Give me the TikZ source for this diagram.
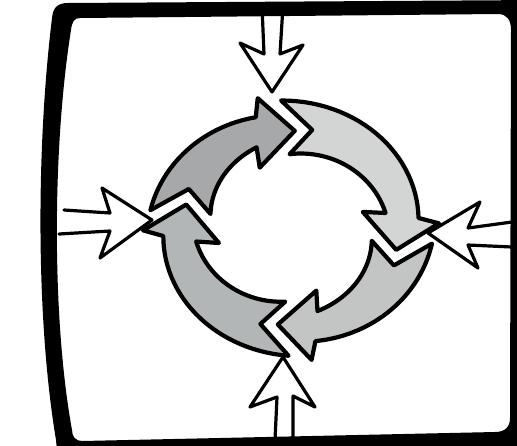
\documentclass[tikz,border=0pt]{standalone}
\usepackage{tikz}
\usepackage{xcolor}

\definecolor{cycdark}{HTML}{A6A8A9}
\definecolor{cyclight}{HTML}{D3D5D4}
\definecolor{cycmid}{HTML}{C3C5C5}
\definecolor{cycmidb}{HTML}{B3B6B7}

\begin{document}
\begin{tikzpicture}[x=1pt, y=-1pt,
    frame/.style={fill=black, even odd rule},
    cyc/.style={draw=black, line width=4.2pt, line join=round},
    inarr/.style={draw=black, fill=white, line width=3.2pt, line join=round, line cap=round}
]
\useasboundingbox[fill=white] (0,0) rectangle (517,445);

\filldraw[inarr] (262,6) -- (264,54) -- (240,43) -- (272,92) -- (303,45) -- (280,54) -- (283,6);
\filldraw[inarr] (64,210) -- (110,213) -- (102,188) -- (152,220) -- (100,258) -- (110,231) -- (59,234);
\filldraw[inarr] (512,222) -- (468,228) -- (480,202) -- (428,233) -- (478,268) -- (468,245) -- (512,247);
\filldraw[inarr] (275,440) -- (277,397) -- (250,407) -- (283,357) -- (315,407) -- (293,396) -- (293,440);

\begin{scope}[shift={(291,228)}, yscale=0.9]
\foreach \tl/\hd/\col in {-166/-88/cycdark, -88/13/cyclight, 13/97/cycmid, 97/194/cycmidb}{
  \pgfmathsetmacro{\tailo}{\tl-6}
  \pgfmathsetmacro{\taili}{\tl-3}
  \pgfmathsetmacro{\notch}{\tl+9}
  \pgfmathsetmacro{\shouldo}{\hd-18}
  \pgfmathsetmacro{\wingo}{\hd-15}
  \pgfmathsetmacro{\shouldi}{\hd-23}
  \pgfmathsetmacro{\wingi}{\hd-27}
  \filldraw[cyc, fill=\col] (\tailo:142)
    -- plot[domain=\tailo:\shouldo, samples=30, variable=\ang] (\ang:{142-14*(\ang-\tailo)/(\shouldo-\tailo)})
    -- (\wingo:148) -- (\hd:108) -- (\wingi:74) -- (\shouldi:96)
    -- plot[domain=\shouldi:\taili, samples=30, variable=\ang] (\ang:{82+14*(\ang-\taili)/(\shouldi-\taili)})
    -- (\notch:111) -- cycle;
}
\end{scope}

\fill[frame] (58,460) -- (56,440) .. controls (36,320) and (36,150) .. (52,18)
    .. controls (53,8) and (57,3) .. (68,3) -- (540,0) -- (540,460) -- cycle
  (80,18) -- (498,14) .. controls (507,14) and (511,20) .. (511,30)
    -- (510,418) .. controls (510,427) and (505,432) .. (495,432)
    -- (82,441) .. controls (76,441) and (72,437) .. (72,430)
    .. controls (52,320) and (52,150) .. (71,30) .. controls (72,22) and (74,18) .. (80,18) -- cycle;
\end{tikzpicture}
\end{document}
